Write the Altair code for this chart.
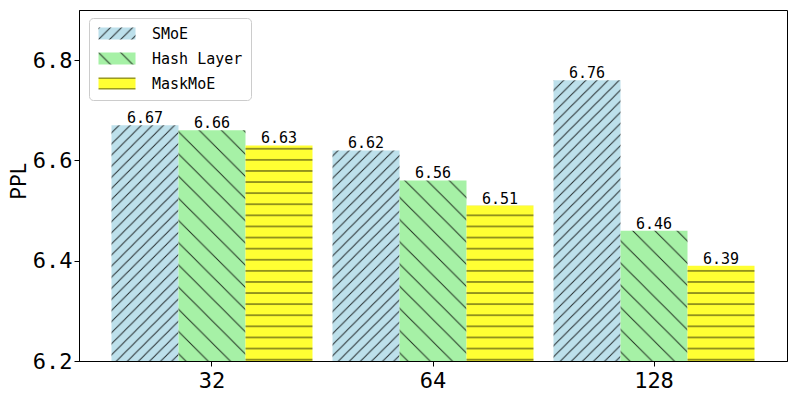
import altair as alt
import pandas as pd
import jinja2

# ---- data ----
groups = ["32", "64", "128"]
models = ["SMoE", "Hash Layer", "MaskMoE"]
smoe = [6.67, 6.62, 6.76]
hash_layer = [6.66, 6.56, 6.46]
maskmoe = [6.63, 6.51, 6.39]
y_ticks = [6.2, 6.4, 6.6, 6.8]

rows = []
for i, g in enumerate(groups):
    for m, vals in zip(models, [smoe, hash_layer, maskmoe]):
        rows.append({"group": g, "model": m, "ppl": vals[i]})
df = pd.DataFrame(rows)

MONO = "DejaVu Sans Mono"
fills = ["url(#hatch-smoe)", "url(#hatch-hash)", "url(#hatch-mask)"]

x = alt.X(
    "group:N", sort=groups,
    scale=alt.Scale(paddingInner=0.0905, paddingOuter=0.147),
    axis=alt.Axis(title=None, labelAngle=0, labelFont=MONO, labelFontSize=22,
                  labelColor="black", tickColor="black", tickSize=5,
                  domainColor="black", labelPadding=4),
)
xo = alt.XOffset("model:N", sort=models,
                 scale=alt.Scale(domain=models, paddingInner=0, paddingOuter=0))
y = alt.Y(
    "ppl:Q",
    scale=alt.Scale(domain=[6.2, 6.9], zero=False, nice=False),
    axis=alt.Axis(title="PPL", values=y_ticks, format=".1f", grid=False,
                  labelFont=MONO, labelFontSize=22, labelColor="black",
                  tickColor="black", tickSize=5, domainColor="black",
                  labelPadding=2, titleFont="Noto Sans", titleFontSize=21,
                  titleFontWeight="normal", titleColor="black",
                  titleX=-54, titleY=171, titleAlign="center",
                  titleBaseline="alphabetic"),
)

bars = alt.Chart(df).mark_bar(strokeWidth=0, clip=True).encode(
    x=x, xOffset=xo, y=y,
    fill=alt.Fill(
        "model:N", sort=models,
        scale=alt.Scale(domain=models, range=fills),
        legend=alt.Legend(
            title=None, orient="none", legendX=10, legendY=8,
            direction="vertical",
            symbolType="M-1,-1H5.17V1H-1Z", symbolSize=144,
            symbolStrokeWidth=0, labelFont=MONO, labelFontSize=15,
            labelColor="black", labelOffset=40, rowPadding=9, padding=8,
            strokeColor="#cccccc", fillColor="white", cornerRadius=4,
        ),
    ),
)

labels = alt.Chart(df).mark_text(
    baseline="alphabetic", dy=-2, font=MONO, fontSize=15, color="black"
).encode(x=x, xOffset=xo, y=y, text=alt.Text("ppl:Q", format=".2f"))

chart = alt.layer(bars, labels).properties(
    width=708, height=351,
    padding={"left": 71, "top": 2, "right": 2, "bottom": 30},
    autosize=alt.AutoSizeParams(type="none"),
).configure_view(stroke="black", strokeWidth=1)

TEMPLATE = jinja2.Template("""<!DOCTYPE html>
<html>
<head>
  <script type="text/javascript" src="{{ base_url }}/vega@{{ vega_version }}"></script>
  <script type="text/javascript" src="{{ base_url }}/vega-lite@{{ vegalite_version }}"></script>
  <script type="text/javascript" src="{{ base_url }}/vega-embed@{{ vegaembed_version }}"></script>
</head>
<body>
  <svg width="0" height="0" style="position:absolute">
    <defs>
      <pattern id="hatch-smoe" patternUnits="userSpaceOnUse" width="11.1" height="11.1">
        <rect width="11.1" height="11.1" fill="#BDE0EB"/>
        <path d="M-2.8,2.8L2.8,-2.8M0,11.1L11.1,0M8.3,13.9L13.9,8.3" stroke="#000" stroke-opacity="0.8" stroke-width="1"/>
      </pattern>
      <pattern id="hatch-hash" patternUnits="userSpaceOnUse" width="22.2" height="22.2">
        <rect width="22.2" height="22.2" fill="#A6F1A6"/>
        <path d="M0,0L22.2,22.2M-2.8,19.4L2.8,25M19.4,-2.8L25,2.8" stroke="#000" stroke-opacity="0.8" stroke-width="1"/>
      </pattern>
      <pattern id="hatch-mask" patternUnits="userSpaceOnUse" width="10" height="11.1">
        <rect width="10" height="11.1" fill="#FFFF33"/>
        <path d="M-1,5.55H11" stroke="#000" stroke-opacity="0.8" stroke-width="1"/>
      </pattern>
    </defs>
  </svg>
  <div id="{{ output_div }}"></div>
  <script>
    vegaEmbed("#{{ output_div }}", {{ spec }}, {{ embed_options }}).catch(console.error);
  </script>
</body>
</html>
""")

chart.save("out.html", embed_options={"renderer": "svg", "actions": False}, template=TEMPLATE)
